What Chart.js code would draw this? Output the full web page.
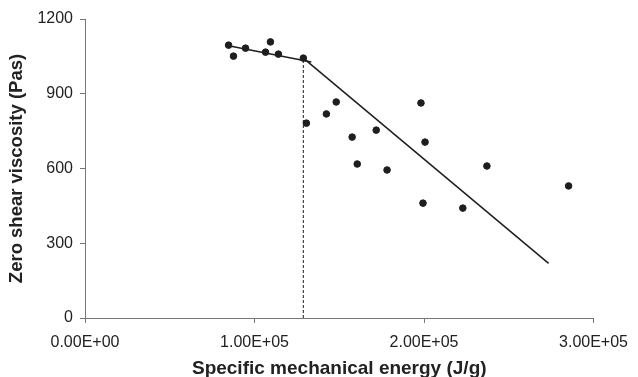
<!DOCTYPE html>
<html>
<head>
<meta charset="utf-8">
<script src="https://cdn.jsdelivr.net/npm/chart.js@4/dist/chart.umd.min.js"></script>
<style>
  html, body { margin: 0; padding: 0; background: #fff; }
  #wrap { width: 638px; height: 377px; }
</style>
</head>
<body>
<div id="wrap"><canvas id="c" width="638" height="377"></canvas></div>
<script>
// measured points: specific mechanical energy (J/g) vs zero shear viscosity (Pas)
var smeValues = [84700, 87600, 94700, 106500, 109400, 114100, 128800, 130600, 142400, 148200,
                 157600, 160600, 171800, 178200, 198200, 200600, 199400, 222900, 237100, 285300];
var viscValues = [1095, 1051, 1083, 1067, 1108, 1059, 1043, 782, 819, 867,
                  726, 618, 754, 594, 863, 706, 461, 441, 610, 530];

// fitted trend lines and the break point
var fit1X = [84700, 133500];
var fit1Y = [1093, 1027];
var fit2X = [128800, 273500];
var fit2Y = [1043, 219];
var breakX = [128800, 128800];
var breakY = [0, 1043];

var xTicks = [0, 100000, 200000, 300000];
var yTicks = [0, 300, 600, 900, 1200];

function pts(xs, ys) {
  return xs.map(function(x, i) { return { x: x, y: ys[i] }; });
}

function sci(v) {
  if (v === 0) return '0.00E+00';
  var e = Math.floor(Math.log10(Math.abs(v)));
  var m = v / Math.pow(10, e);
  var es = (e < 0 ? '-' : '+') + (Math.abs(e) < 10 ? '0' : '') + Math.abs(e);
  return m.toFixed(2) + 'E' + es;
}

var ink = '#1e1e1e';
Chart.defaults.font.family = '"Liberation Sans", Arial, sans-serif';
Chart.defaults.color = '#222';

new Chart(document.getElementById('c'), {
  type: 'scatter',
  data: {
    datasets: [
      {
        data: pts(smeValues, viscValues),
        backgroundColor: ink,
        borderColor: ink,
        pointRadius: 3.3,
        pointHoverRadius: 3.3
      },
      {
        type: 'line',
        data: pts(fit1X, fit1Y),
        borderColor: ink,
        borderWidth: 1.5,
        pointRadius: 0,
        fill: false
      },
      {
        type: 'line',
        data: pts(fit2X, fit2Y),
        borderColor: ink,
        borderWidth: 1.5,
        pointRadius: 0,
        fill: false
      },
      {
        type: 'line',
        data: pts(breakX, breakY),
        borderColor: ink,
        borderWidth: 1,
        borderDash: [3, 2],
        pointRadius: 0,
        fill: false
      }
    ]
  },
  options: {
    responsive: false,
    animation: false,
    layout: { padding: { top: 19, right: 43, left: 0, bottom: 0 } },
    plugins: { legend: { display: false }, tooltip: { enabled: false } },
    scales: {
      x: {
        type: 'linear',
        min: 0,
        max: 300000,
        afterBuildTicks: function(axis) { axis.ticks = xTicks.map(function(v) { return { value: v }; }); },
        afterFit: function(axis) { axis.height = 59; },
        ticks: {
          callback: function(v) { return sci(v); },
          font: { size: 16 },
          padding: 10,
          maxRotation: 0
        },
        grid: { drawOnChartArea: false, tickLength: 5, color: '#777' },
        border: { color: '#777', width: 1 },
        title: {
          display: true,
          text: 'Specific mechanical energy (J/g)',
          font: { size: 19, weight: 'bold', lineHeight: 1 },
          padding: { top: 0, bottom: -1 }
        }
      },
      y: {
        type: 'linear',
        min: 0,
        max: 1200,
        afterBuildTicks: function(axis) { axis.ticks = yTicks.map(function(v) { return { value: v }; }); },
        afterFit: function(axis) { axis.width = 85; },
        ticks: {
          callback: function(v) { return String(v); },
          font: { size: 16 },
          padding: 7
        },
        grid: { drawOnChartArea: false, tickLength: 5, color: '#777' },
        border: { color: '#777', width: 1 },
        title: {
          display: true,
          text: 'Zero shear viscosity (Pas)',
          font: { size: 18.5, weight: 'bold' },
          padding: { top: 6, bottom: 0 }
        }
      }
    }
  }
});
</script>
</body>
</html>
